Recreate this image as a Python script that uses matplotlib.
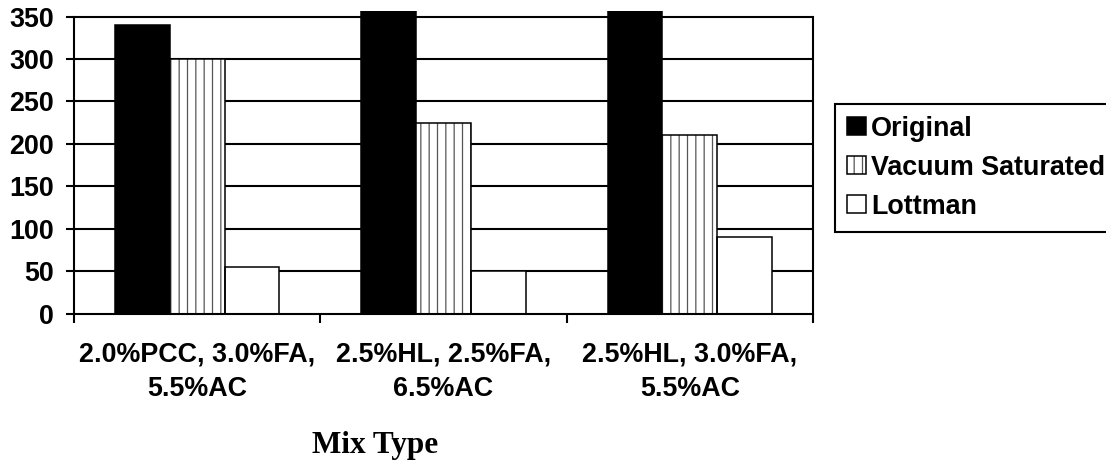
import numpy as np
import matplotlib
matplotlib.use("Agg")
import matplotlib.pyplot as plt
from matplotlib.patches import Patch
from matplotlib.legend_handler import HandlerTuple

# Indirect tensile strength by mix type and conditioning
mixes = ["2.0%PCC, 3.0%FA,\n5.5%AC", "2.5%HL, 2.5%FA,\n6.5%AC", "2.5%HL, 3.0%FA,\n5.5%AC"]
series = ["Original", "Vacuum Saturated", "Lottman"]
original = [340, 400, 400]
vacuum_saturated = [300, 225, 210]
lottman = [55, 50, 90]
y_ticks = [0, 50, 100, 150, 200, 250, 300, 350]
x_title = "Mix Type"

plt.rcParams["font.family"] = ["Liberation Sans", "DejaVu Sans"]
plt.rcParams["font.weight"] = "bold"
plt.rcParams["hatch.linewidth"] = 0.9

FS = 19.4
W, H = 1106, 463
fig = plt.figure(figsize=(W / 100, H / 100), dpi=100)
ax = fig.add_axes([74 / W, 1 - 313.5 / H, (813 - 74) / W, 302.5 / H])

x = np.arange(len(mixes))
w = 0.2227
lw = 1.1
hatch_col = "#555555"

ax.bar(x - w, original, w, color="black", edgecolor="black", lw=lw, zorder=2)
ax.bar(x, vacuum_saturated, w, color="white", edgecolor=hatch_col, hatch="||", lw=0, zorder=2)
ax.bar(x, vacuum_saturated, w, fill=False, edgecolor="black", lw=lw, zorder=2.1)
ax.bar(x + w, lottman, w, color="white", edgecolor="black", lw=lw, zorder=2)

# horizontal grid behind the bars
ax.hlines(y_ticks[1:], -0.5, 2.5, colors="black", lw=1.5, zorder=1)

ax.set_xlim(-0.5, 2.5)
ax.set_ylim(0, 356.5)

ax.spines["top"].set_visible(False)
for side in ("left", "right"):
    ax.spines[side].set_bounds(0, 350)
    ax.spines[side].set_linewidth(1.5)
ax.spines["bottom"].set_linewidth(1.5)

ax.set_yticks(y_ticks)
ax.tick_params(axis="y", direction="out", length=6, width=1.5, pad=8.5, labelsize=FS)

ax.set_xticks(np.arange(-0.5, 3.0, 1.0))
ax.tick_params(axis="x", which="major", direction="out", length=6.5, width=1.5, labelbottom=False)
ax.set_xticks(x, mixes, minor=True)
ax.tick_params(axis="x", which="minor", direction="in", length=4.5, width=1.5, pad=20, labelsize=FS)
for lab in ax.get_xticklabels(minor=True):
    lab.set_linespacing(1.42)

fig.text(375 / W, 1 - 453 / H, x_title, ha="center", va="baseline",
         family="Liberation Serif", weight="bold", fontsize=22.5)

handles = [
    Patch(facecolor="black", edgecolor="black", lw=lw),
    (Patch(facecolor="white", edgecolor=hatch_col, hatch="||", lw=0),
     Patch(fill=False, edgecolor="black", lw=lw)),
    Patch(facecolor="white", edgecolor="black", lw=lw),
]
leg = fig.legend(handles, series, loc="upper left",
                 bbox_to_anchor=(835 / W, 1 - 104 / H), borderaxespad=0,
                 frameon=True, fancybox=False, shadow=False, framealpha=1,
                 edgecolor="black", fontsize=FS,
                 handlelength=0.7, handleheight=0.66, handletextpad=0.2,
                 labelspacing=0.48, borderpad=0.44,
                 handler_map={tuple: HandlerTuple(ndivide=1, pad=0)})
leg.get_frame().set_linewidth(1.5)

fig.savefig("out.png", dpi=100)
